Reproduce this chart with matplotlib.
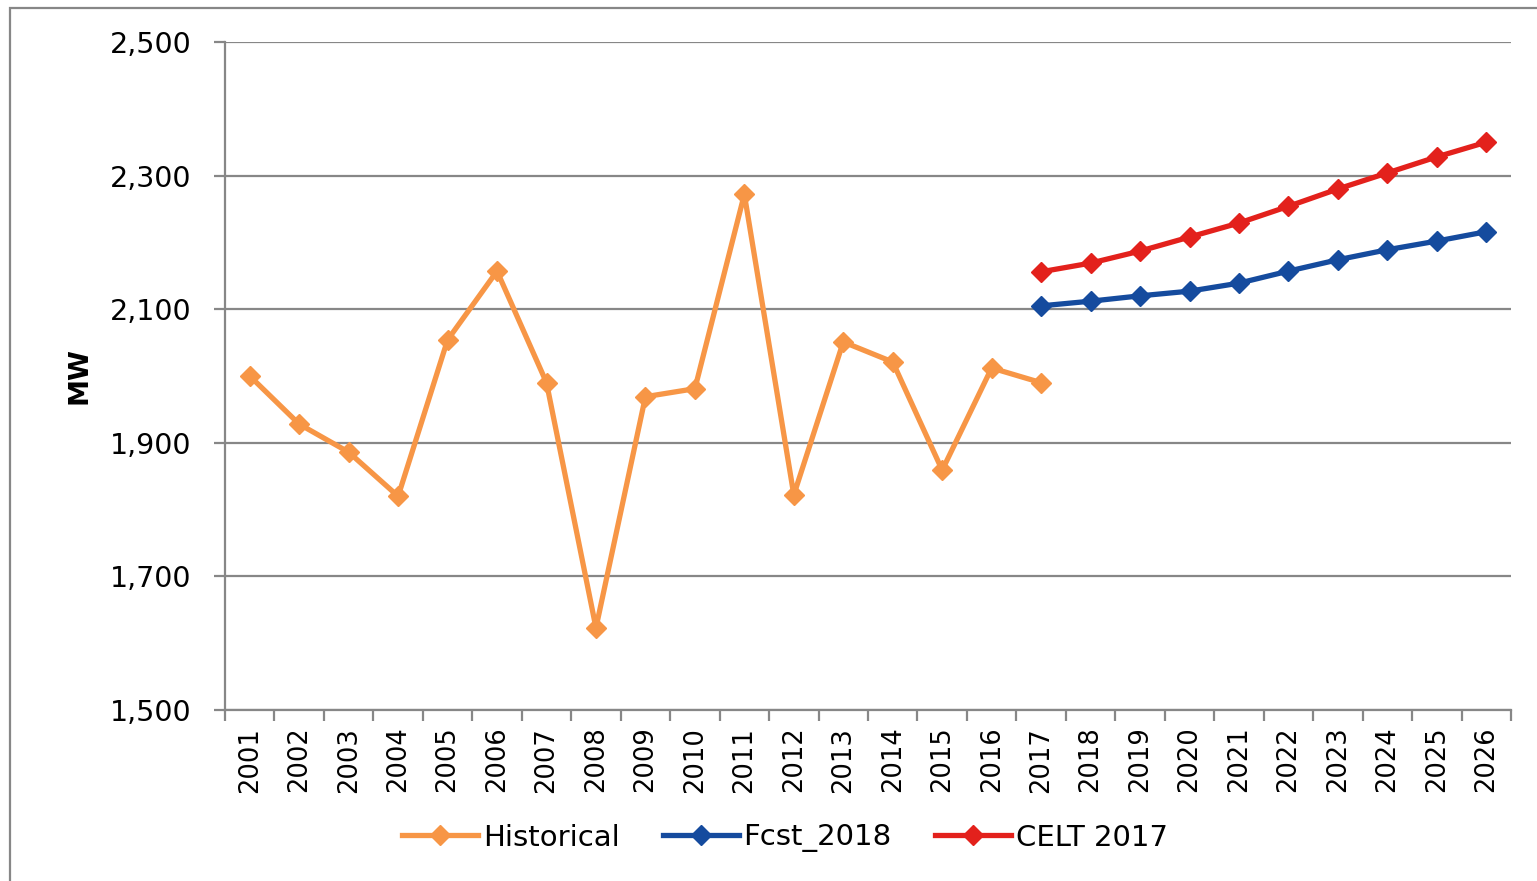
import matplotlib
matplotlib.use("Agg")
import matplotlib.pyplot as plt
from matplotlib.patches import Rectangle
from matplotlib.lines import Line2D

years = [str(y) for y in range(2001, 2027)]
hist_years = years[:17]
hist_vals = [2000, 1928, 1886, 1820, 2054, 2157, 1990, 1623, 1969, 1981,
             2272, 1822, 2051, 2021, 1859, 2012, 1990]
fc_years = years[16:]
fcst_vals = [2105, 2112, 2120, 2127, 2139, 2157, 2174, 2189, 2202, 2216]
celt_vals = [2156, 2169, 2187, 2208, 2229, 2254, 2280, 2304, 2328, 2350]
yticks = [1500, 1700, 1900, 2100, 2300, 2500]

c_hist = "#F79646"
c_fcst = "#154B9E"
c_celt = "#E3211C"
gray = "#878787"

plt.rcParams['font.family'] = ['DejaVu Sans']

fig = plt.figure(figsize=(15.37, 8.81), dpi=100)
ax = fig.add_axes([225/1537, 1-710/881, (1511-225)/1537, (710-42)/881])

# outer chart frame
fig.patches.append(Rectangle((10/1537, -0.05), 1.1, 1 - 8/881 + 0.05,
                             transform=fig.transFigure, fill=False,
                             edgecolor=gray, linewidth=1.6, clip_on=False))

idx = {y: i for i, y in enumerate(years)}
lw = 3.8
ms = 10
ax.plot([idx[y] for y in hist_years], hist_vals, color=c_hist, lw=lw,
        marker='D', ms=ms, mec=c_hist, label='Historical', zorder=3)
ax.plot([idx[y] for y in fc_years], fcst_vals, color=c_fcst, lw=lw,
        marker='D', ms=ms, mec=c_fcst, label='Fcst_2018', zorder=3)
ax.plot([idx[y] for y in fc_years], celt_vals, color=c_celt, lw=lw,
        marker='D', ms=ms, mec=c_celt, label='CELT 2017', zorder=3)

ax.set_xlim(-0.5, len(years) - 0.5)
ax.set_ylim(1500, 2500)
ax.set_yticks(yticks)
ax.set_yticklabels([f"{v:,}" for v in yticks], fontsize=20.5)
ax.set_xticks(range(len(years)))
ax.set_xticklabels(years, rotation=90, fontsize=18.5)
ax.set_xticks([i - 0.5 for i in range(len(years) + 1)], minor=True)
ax.tick_params(axis='x', which='major', length=0, pad=12)
ax.tick_params(axis='x', which='minor', length=8, width=1.6, color=gray)
ax.tick_params(axis='y', length=8, width=1.6, color=gray, pad=16)

ax.grid(axis='y', color=gray, linewidth=1.6)
ax.set_axisbelow(True)
for s in ['top', 'right']:
    ax.spines[s].set_visible(False)
for s in ['left', 'bottom']:
    ax.spines[s].set_color(gray)
    ax.spines[s].set_linewidth(1.6)

ax.set_ylabel('MW', fontsize=19.5, fontweight='bold', labelpad=12.5)

handles = [Line2D([], [], color=c, lw=lw, marker='D', ms=ms, mec=c)
           for c in (c_hist, c_fcst, c_celt)]
fig.legend(handles, ['Historical', 'Fcst_2018', 'CELT 2017'],
           loc='center', bbox_to_anchor=(785/1537, 1 - 838/881), ncol=3,
           frameon=False, fontsize=21, handlelength=2.6, handletextpad=0.15,
           columnspacing=1.5)

fig.savefig('out.png', dpi=100)
